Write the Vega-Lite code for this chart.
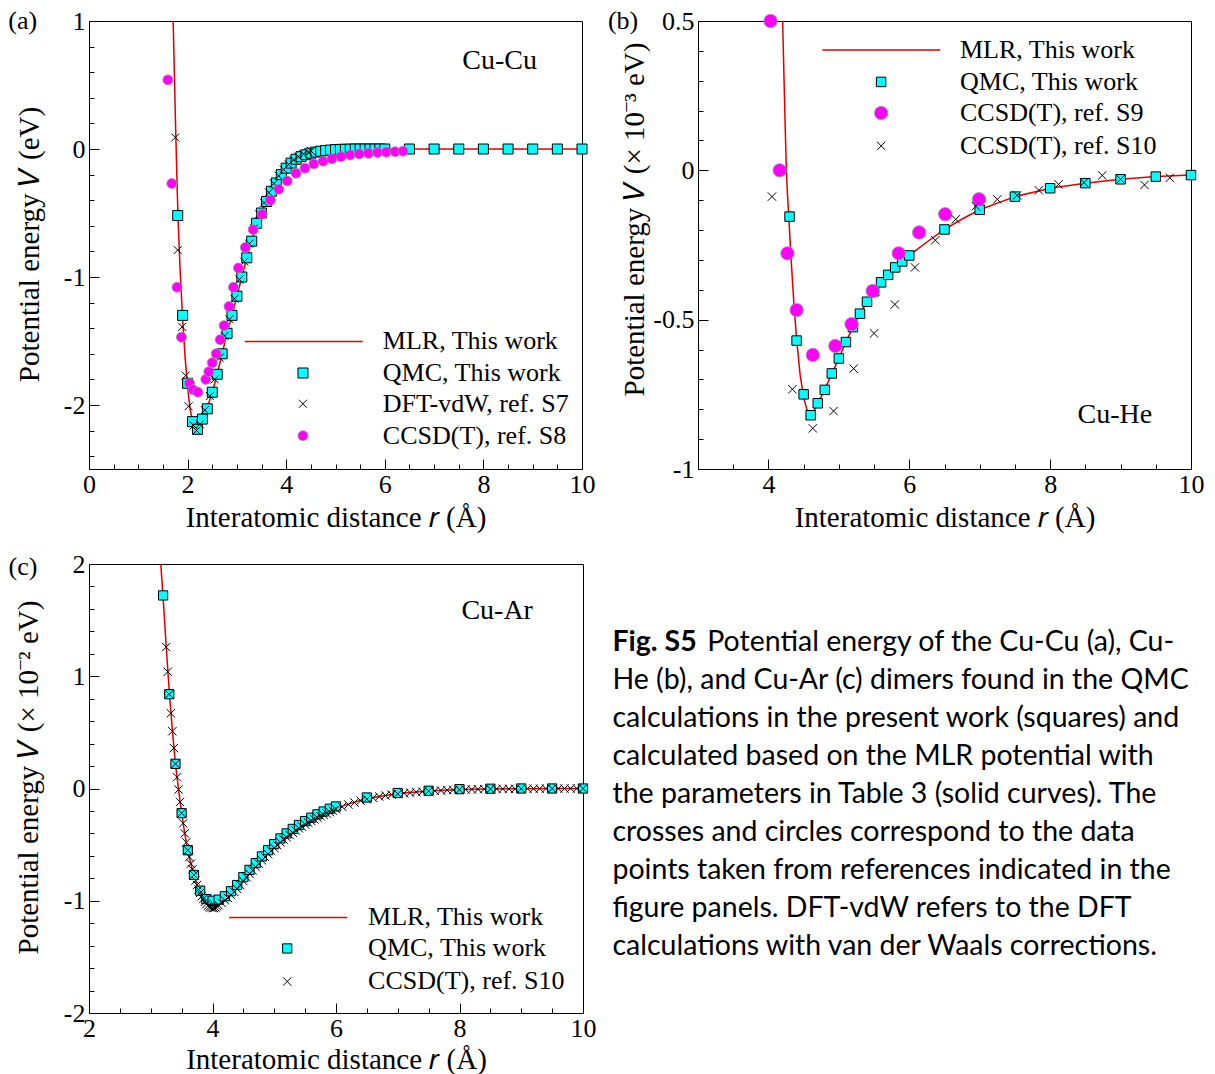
{
  "$schema": "https://vega.github.io/schema/vega-lite/v6.json",
  "padding": {"left": 7, "top": 7, "right": 0, "bottom": 0},
  "background": "white",
  "config": {
    "font": "Liberation Serif",
    "view": {"stroke": "#000", "strokeWidth": 1},
    "axis": {
      "grid": false, "domain": false,
      "labelFont": "Liberation Serif", "labelFontSize": 26, "labelColor": "#000",
      "titleFont": "Liberation Serif", "titleFontSize": 29, "titleFontWeight": "normal", "titleColor": "#000",
      "tickColor": "#000", "tickWidth": 1, "labelOverlap": false, "labelFlush": false
    },
    "text": {"font": "Liberation Serif", "color": "#000"}
  },
  "datasets": {
    "one": [{}],
    "cucu_mlr": [
      {"r": 1.695, "V": 1.15}, {"r": 1.71, "V": 0.95}, {"r": 1.73, "V": 0.62}, {"r": 1.75, "V": 0.28},
      {"r": 1.77, "V": -0.03}, {"r": 1.79, "V": -0.33}, {"r": 1.81, "V": -0.58}, {"r": 1.85, "V": -0.96},
      {"r": 1.9, "V": -1.33}, {"r": 1.95, "V": -1.63}, {"r": 2.0, "V": -1.86}, {"r": 2.05, "V": -2.03},
      {"r": 2.1, "V": -2.13}, {"r": 2.15, "V": -2.18}, {"r": 2.2, "V": -2.19}, {"r": 2.25, "V": -2.16},
      {"r": 2.3, "V": -2.11}, {"r": 2.4, "V": -2.02}, {"r": 2.5, "V": -1.9}, {"r": 2.6, "V": -1.76},
      {"r": 2.7, "V": -1.6}, {"r": 2.8, "V": -1.44}, {"r": 2.9, "V": -1.3}, {"r": 3.0, "V": -1.15},
      {"r": 3.1, "V": -1.0}, {"r": 3.2, "V": -0.85}, {"r": 3.3, "V": -0.72}, {"r": 3.4, "V": -0.59},
      {"r": 3.5, "V": -0.49}, {"r": 3.6, "V": -0.41}, {"r": 3.7, "V": -0.33}, {"r": 3.8, "V": -0.265},
      {"r": 3.9, "V": -0.205}, {"r": 4.0, "V": -0.155}, {"r": 4.1, "V": -0.115}, {"r": 4.2, "V": -0.085},
      {"r": 4.3, "V": -0.062}, {"r": 4.4, "V": -0.045}, {"r": 4.5, "V": -0.033}, {"r": 4.6, "V": -0.024},
      {"r": 4.8, "V": -0.012}, {"r": 5.0, "V": -0.006}, {"r": 5.3, "V": -0.002}, {"r": 5.6, "V": 0},
      {"r": 6.0, "V": 0}, {"r": 10.0, "V": 0}
    ],
    "cucu_qmc": [
      {"r": 1.8, "V": -0.52}, {"r": 1.9, "V": -1.3}, {"r": 2.0, "V": -1.83}, {"r": 2.1, "V": -2.13},
      {"r": 2.2, "V": -2.19}, {"r": 2.3, "V": -2.11}, {"r": 2.4, "V": -2.03}, {"r": 2.5, "V": -1.9},
      {"r": 2.6, "V": -1.76}, {"r": 2.7, "V": -1.6}, {"r": 2.8, "V": -1.44}, {"r": 2.9, "V": -1.3},
      {"r": 3.0, "V": -1.15}, {"r": 3.1, "V": -1.0}, {"r": 3.2, "V": -0.85}, {"r": 3.3, "V": -0.72},
      {"r": 3.4, "V": -0.58}, {"r": 3.5, "V": -0.5}, {"r": 3.6, "V": -0.41}, {"r": 3.7, "V": -0.33},
      {"r": 3.8, "V": -0.265}, {"r": 3.9, "V": -0.2}, {"r": 4.0, "V": -0.15}, {"r": 4.1, "V": -0.11},
      {"r": 4.2, "V": -0.08}, {"r": 4.3, "V": -0.06}, {"r": 4.4, "V": -0.045}, {"r": 4.5, "V": -0.033},
      {"r": 4.6, "V": -0.024}, {"r": 4.7, "V": -0.017}, {"r": 4.8, "V": -0.012}, {"r": 4.9, "V": -0.008},
      {"r": 5.0, "V": -0.005}, {"r": 5.1, "V": -0.003}, {"r": 5.2, "V": -0.002}, {"r": 5.3, "V": -0.001},
      {"r": 5.4, "V": 0}, {"r": 5.5, "V": 0}, {"r": 5.6, "V": 0}, {"r": 5.7, "V": 0}, {"r": 5.8, "V": 0},
      {"r": 5.9, "V": 0}, {"r": 6.0, "V": 0}, {"r": 6.5, "V": 0}, {"r": 7.0, "V": 0}, {"r": 7.5, "V": 0},
      {"r": 8.0, "V": 0}, {"r": 8.5, "V": 0}, {"r": 9.0, "V": 0}, {"r": 9.5, "V": 0}, {"r": 10.0, "V": 0}
    ],
    "cucu_dft": [
      {"r": 1.75, "V": 0.09}, {"r": 1.8, "V": -0.79}, {"r": 1.89, "V": -1.39}, {"r": 1.96, "V": -1.77},
      {"r": 2.02, "V": -2.01}, {"r": 2.12, "V": -2.16}, {"r": 2.18, "V": -2.2}, {"r": 2.25, "V": -2.15},
      {"r": 2.35, "V": -2.04}, {"r": 2.45, "V": -1.93}, {"r": 2.55, "V": -1.8}, {"r": 2.65, "V": -1.63},
      {"r": 2.75, "V": -1.46}, {"r": 2.85, "V": -1.33}, {"r": 2.95, "V": -1.17}, {"r": 3.05, "V": -1.02},
      {"r": 3.15, "V": -0.88}, {"r": 3.25, "V": -0.74}, {"r": 3.35, "V": -0.62}, {"r": 3.45, "V": -0.51},
      {"r": 3.55, "V": -0.42}, {"r": 3.65, "V": -0.34}, {"r": 3.75, "V": -0.27}, {"r": 3.85, "V": -0.21},
      {"r": 3.95, "V": -0.16}, {"r": 4.05, "V": -0.12}, {"r": 4.15, "V": -0.085}, {"r": 4.25, "V": -0.06},
      {"r": 4.35, "V": -0.04}, {"r": 4.45, "V": -0.025}, {"r": 4.5, "V": -0.015}
    ],
    "cucu_s8": [
      {"r": 1.6, "V": 0.54}, {"r": 1.68, "V": -0.27}, {"r": 1.785, "V": -1.08}, {"r": 1.875, "V": -1.47},
      {"r": 2.04, "V": -1.83}, {"r": 2.11, "V": -1.88}, {"r": 2.21, "V": -1.9}, {"r": 2.37, "V": -1.8},
      {"r": 2.43, "V": -1.74}, {"r": 2.5, "V": -1.67}, {"r": 2.58, "V": -1.6}, {"r": 2.66, "V": -1.49},
      {"r": 2.74, "V": -1.38}, {"r": 2.84, "V": -1.23}, {"r": 2.93, "V": -1.08}, {"r": 3.03, "V": -0.93},
      {"r": 3.17, "V": -0.77}, {"r": 3.33, "V": -0.63}, {"r": 3.51, "V": -0.51}, {"r": 3.68, "V": -0.4},
      {"r": 3.85, "V": -0.315}, {"r": 4.02, "V": -0.25}, {"r": 4.2, "V": -0.19}, {"r": 4.38, "V": -0.15},
      {"r": 4.56, "V": -0.117}, {"r": 4.75, "V": -0.096}, {"r": 4.93, "V": -0.076}, {"r": 5.11, "V": -0.06},
      {"r": 5.3, "V": -0.047}, {"r": 5.48, "V": -0.039}, {"r": 5.67, "V": -0.034}, {"r": 5.85, "V": -0.028},
      {"r": 6.03, "V": -0.025}, {"r": 6.21, "V": -0.021}, {"r": 6.37, "V": -0.017}
    ],
    "cuhe_mlr": [
      {"r": 4.195, "V": 0.56}, {"r": 4.21, "V": 0.42}, {"r": 4.225, "V": 0.27}, {"r": 4.24, "V": 0.13},
      {"r": 4.255, "V": 0.0}, {"r": 4.27, "V": -0.08}, {"r": 4.29, "V": -0.16}, {"r": 4.32, "V": -0.29},
      {"r": 4.36, "V": -0.44}, {"r": 4.4, "V": -0.565}, {"r": 4.45, "V": -0.685}, {"r": 4.5, "V": -0.76},
      {"r": 4.55, "V": -0.805}, {"r": 4.6, "V": -0.82}, {"r": 4.65, "V": -0.805}, {"r": 4.7, "V": -0.78},
      {"r": 4.8, "V": -0.735}, {"r": 4.9, "V": -0.68}, {"r": 5.0, "V": -0.63}, {"r": 5.1, "V": -0.575},
      {"r": 5.2, "V": -0.525}, {"r": 5.3, "V": -0.48}, {"r": 5.4, "V": -0.44}, {"r": 5.5, "V": -0.405},
      {"r": 5.6, "V": -0.375}, {"r": 5.7, "V": -0.35}, {"r": 5.8, "V": -0.325}, {"r": 5.9, "V": -0.305},
      {"r": 6.0, "V": -0.285}, {"r": 6.25, "V": -0.24}, {"r": 6.5, "V": -0.198}, {"r": 6.75, "V": -0.163},
      {"r": 7.0, "V": -0.132}, {"r": 7.5, "V": -0.088}, {"r": 8.0, "V": -0.06}, {"r": 8.5, "V": -0.043},
      {"r": 9.0, "V": -0.03}, {"r": 9.5, "V": -0.021}, {"r": 10.0, "V": -0.016}
    ],
    "cuhe_qmc": [
      {"r": 4.3, "V": -0.155}, {"r": 4.4, "V": -0.57}, {"r": 4.5, "V": -0.75}, {"r": 4.6, "V": -0.82},
      {"r": 4.7, "V": -0.78}, {"r": 4.8, "V": -0.735}, {"r": 4.9, "V": -0.68}, {"r": 5.0, "V": -0.63},
      {"r": 5.1, "V": -0.575}, {"r": 5.2, "V": -0.525}, {"r": 5.3, "V": -0.48}, {"r": 5.4, "V": -0.44},
      {"r": 5.5, "V": -0.405}, {"r": 5.6, "V": -0.375}, {"r": 5.7, "V": -0.35}, {"r": 5.8, "V": -0.325},
      {"r": 5.9, "V": -0.305}, {"r": 6.0, "V": -0.285}, {"r": 6.5, "V": -0.198}, {"r": 7.0, "V": -0.132},
      {"r": 7.5, "V": -0.088}, {"r": 8.0, "V": -0.06}, {"r": 8.5, "V": -0.043}, {"r": 9.0, "V": -0.03},
      {"r": 9.5, "V": -0.021}, {"r": 10.0, "V": -0.016}
    ],
    "cuhe_s9": [
      {"r": 4.03, "V": 0.5}, {"r": 4.16, "V": 0.0}, {"r": 4.27, "V": -0.278}, {"r": 4.4, "V": -0.468},
      {"r": 4.63, "V": -0.618}, {"r": 4.95, "V": -0.588}, {"r": 5.18, "V": -0.515}, {"r": 5.48, "V": -0.404},
      {"r": 5.85, "V": -0.278}, {"r": 6.14, "V": -0.208}, {"r": 6.51, "V": -0.147}, {"r": 6.99, "V": -0.097}
    ],
    "cuhe_s10": [
      {"r": 4.05, "V": -0.088}, {"r": 4.34, "V": -0.733}, {"r": 4.63, "V": -0.864}, {"r": 4.925, "V": -0.806},
      {"r": 5.21, "V": -0.664}, {"r": 5.5, "V": -0.546}, {"r": 5.795, "V": -0.449}, {"r": 6.08, "V": -0.325},
      {"r": 6.37, "V": -0.234}, {"r": 6.66, "V": -0.164}, {"r": 6.945, "V": -0.12}, {"r": 7.25, "V": -0.097},
      {"r": 7.53, "V": -0.084}, {"r": 7.84, "V": -0.067}, {"r": 8.12, "V": -0.047}, {"r": 8.48, "V": -0.041},
      {"r": 8.74, "V": -0.017}, {"r": 9.0, "V": -0.03}, {"r": 9.34, "V": -0.049}, {"r": 9.7, "V": -0.025}
    ],
    "cuar_mlr": [
      {"r": 3.15, "V": 2.1}, {"r": 3.2, "V": 1.7}, {"r": 3.25, "V": 1.27}, {"r": 3.3, "V": 0.86},
      {"r": 3.35, "V": 0.52}, {"r": 3.4, "V": 0.22}, {"r": 3.45, "V": -0.01}, {"r": 3.5, "V": -0.22},
      {"r": 3.55, "V": -0.4}, {"r": 3.6, "V": -0.55}, {"r": 3.65, "V": -0.67}, {"r": 3.7, "V": -0.775},
      {"r": 3.75, "V": -0.86}, {"r": 3.8, "V": -0.925}, {"r": 3.85, "V": -0.97}, {"r": 3.9, "V": -1.005},
      {"r": 3.95, "V": -1.025}, {"r": 4.0, "V": -1.035}, {"r": 4.05, "V": -1.035}, {"r": 4.1, "V": -1.025},
      {"r": 4.2, "V": -0.98}, {"r": 4.3, "V": -0.93}, {"r": 4.4, "V": -0.875}, {"r": 4.5, "V": -0.81},
      {"r": 4.6, "V": -0.745}, {"r": 4.7, "V": -0.685}, {"r": 4.8, "V": -0.625}, {"r": 4.9, "V": -0.57},
      {"r": 5.0, "V": -0.515}, {"r": 5.2, "V": -0.42}, {"r": 5.4, "V": -0.34}, {"r": 5.6, "V": -0.275},
      {"r": 5.8, "V": -0.22}, {"r": 6.0, "V": -0.175}, {"r": 6.25, "V": -0.13}, {"r": 6.5, "V": -0.09},
      {"r": 7.0, "V": -0.045}, {"r": 7.5, "V": -0.022}, {"r": 8.0, "V": -0.009}, {"r": 8.5, "V": -0.004},
      {"r": 9.0, "V": -0.002}, {"r": 9.5, "V": -0.001}, {"r": 10.0, "V": 0}
    ],
    "cuar_qmc": [
      {"r": 3.2, "V": 1.72}, {"r": 3.3, "V": 0.84}, {"r": 3.4, "V": 0.22}, {"r": 3.5, "V": -0.22},
      {"r": 3.6, "V": -0.55}, {"r": 3.7, "V": -0.77}, {"r": 3.8, "V": -0.91}, {"r": 3.9, "V": -0.985},
      {"r": 4.0, "V": -1.0}, {"r": 4.1, "V": -0.99}, {"r": 4.2, "V": -0.96}, {"r": 4.3, "V": -0.915},
      {"r": 4.4, "V": -0.86}, {"r": 4.5, "V": -0.79}, {"r": 4.6, "V": -0.725}, {"r": 4.7, "V": -0.665},
      {"r": 4.8, "V": -0.605}, {"r": 4.9, "V": -0.55}, {"r": 5.0, "V": -0.495}, {"r": 5.1, "V": -0.445},
      {"r": 5.2, "V": -0.4}, {"r": 5.3, "V": -0.36}, {"r": 5.4, "V": -0.325}, {"r": 5.5, "V": -0.29},
      {"r": 5.6, "V": -0.26}, {"r": 5.7, "V": -0.23}, {"r": 5.8, "V": -0.205}, {"r": 5.9, "V": -0.18},
      {"r": 6.0, "V": -0.16}, {"r": 6.5, "V": -0.08}, {"r": 7.0, "V": -0.04}, {"r": 7.5, "V": -0.02},
      {"r": 8.0, "V": -0.006}, {"r": 8.5, "V": -0.002}, {"r": 9.0, "V": 0}, {"r": 9.5, "V": 0}, {"r": 10.0, "V": 0}
    ],
    "cuar_s10": [
      {"r": 3.25, "V": 1.26}, {"r": 3.275, "V": 1.04}, {"r": 3.3, "V": 0.84}, {"r": 3.325, "V": 0.67},
      {"r": 3.35, "V": 0.51}, {"r": 3.375, "V": 0.36}, {"r": 3.4, "V": 0.22}, {"r": 3.425, "V": 0.1},
      {"r": 3.45, "V": -0.01}, {"r": 3.475, "V": -0.12}, {"r": 3.5, "V": -0.22}, {"r": 3.525, "V": -0.31},
      {"r": 3.55, "V": -0.4}, {"r": 3.575, "V": -0.48}, {"r": 3.6, "V": -0.55}, {"r": 3.625, "V": -0.61},
      {"r": 3.65, "V": -0.67}, {"r": 3.675, "V": -0.72}, {"r": 3.7, "V": -0.77}, {"r": 3.725, "V": -0.82},
      {"r": 3.75, "V": -0.86}, {"r": 3.775, "V": -0.9}, {"r": 3.8, "V": -0.93}, {"r": 3.825, "V": -0.96},
      {"r": 3.85, "V": -0.985}, {"r": 3.875, "V": -1.01}, {"r": 3.9, "V": -1.03}, {"r": 3.925, "V": -1.045},
      {"r": 3.95, "V": -1.055}, {"r": 3.975, "V": -1.06}, {"r": 4.0, "V": -1.065}, {"r": 4.025, "V": -1.065},
      {"r": 4.05, "V": -1.06}, {"r": 4.075, "V": -1.05}, {"r": 4.1, "V": -1.04}, {"r": 4.15, "V": -1.02},
      {"r": 4.2, "V": -0.995}, {"r": 4.25, "V": -0.975}, {"r": 4.3, "V": -0.95}, {"r": 4.35, "V": -0.92},
      {"r": 4.4, "V": -0.895}, {"r": 4.45, "V": -0.86}, {"r": 4.5, "V": -0.825}, {"r": 4.55, "V": -0.79},
      {"r": 4.6, "V": -0.76}, {"r": 4.65, "V": -0.73}, {"r": 4.7, "V": -0.7}, {"r": 4.75, "V": -0.67},
      {"r": 4.8, "V": -0.64}, {"r": 4.85, "V": -0.61}, {"r": 4.9, "V": -0.585}, {"r": 4.95, "V": -0.555},
      {"r": 5.0, "V": -0.53}, {"r": 5.05, "V": -0.505}, {"r": 5.1, "V": -0.48}, {"r": 5.15, "V": -0.455},
      {"r": 5.2, "V": -0.435}, {"r": 5.25, "V": -0.415}, {"r": 5.3, "V": -0.395}, {"r": 5.35, "V": -0.375},
      {"r": 5.4, "V": -0.355}, {"r": 5.45, "V": -0.34}, {"r": 5.5, "V": -0.32}, {"r": 5.55, "V": -0.305},
      {"r": 5.6, "V": -0.29}, {"r": 5.65, "V": -0.275}, {"r": 5.7, "V": -0.26}, {"r": 5.75, "V": -0.247},
      {"r": 5.8, "V": -0.235}, {"r": 5.85, "V": -0.222}, {"r": 5.9, "V": -0.21}, {"r": 5.95, "V": -0.198},
      {"r": 6.0, "V": -0.185}, {"r": 6.1, "V": -0.163}, {"r": 6.2, "V": -0.143}, {"r": 6.3, "V": -0.125},
      {"r": 6.4, "V": -0.109}, {"r": 6.5, "V": -0.095}, {"r": 6.6, "V": -0.083}, {"r": 6.7, "V": -0.072},
      {"r": 6.8, "V": -0.063}, {"r": 6.9, "V": -0.055}, {"r": 7.0, "V": -0.048}, {"r": 7.1, "V": -0.042},
      {"r": 7.2, "V": -0.037}, {"r": 7.3, "V": -0.032}, {"r": 7.4, "V": -0.028}, {"r": 7.5, "V": -0.024},
      {"r": 7.6, "V": -0.021}, {"r": 7.7, "V": -0.018}, {"r": 7.8, "V": -0.015}, {"r": 7.9, "V": -0.013},
      {"r": 8.0, "V": -0.011}, {"r": 8.1, "V": -0.009}, {"r": 8.2, "V": -0.008}, {"r": 8.3, "V": -0.007},
      {"r": 8.4, "V": -0.006}, {"r": 8.5, "V": -0.005}, {"r": 8.6, "V": -0.004}, {"r": 8.7, "V": -0.004},
      {"r": 8.8, "V": -0.003}, {"r": 8.9, "V": -0.003}, {"r": 9.0, "V": -0.002}, {"r": 9.1, "V": -0.002},
      {"r": 9.2, "V": -0.002}, {"r": 9.3, "V": -0.001}, {"r": 9.4, "V": -0.001}, {"r": 9.5, "V": -0.001},
      {"r": 9.6, "V": -0.001}, {"r": 9.7, "V": -0.001}, {"r": 9.8, "V": 0}, {"r": 9.9, "V": 0}, {"r": 10.0, "V": 0}
    ],
    "caption": [
      {"line": 2, "txt": "He (b), and Cu-Ar (c) dimers found in the QMC"},
      {"line": 3, "txt": "calculations in the present work (squares) and"},
      {"line": 4, "txt": "calculated based on the MLR potential with"},
      {"line": 5, "txt": "the parameters in Table 3 (solid curves). The"},
      {"line": 6, "txt": "crosses and circles correspond to the data"},
      {"line": 7, "txt": "points taken from references indicated in the"},
      {"line": 8, "txt": "figure panels. DFT-vdW refers to the DFT"},
      {"line": 9, "txt": "calculations with van der Waals corrections."}
    ]
  },
  "columns": 2,
  "bounds": "flush",
  "spacing": {"row": 95, "column": 115},
  "concat": [
    {
      "width": 493, "height": 448,
      "layer": [
        {
          "data": {"name": "cucu_mlr"},
          "mark": {"type": "line", "color": "#dd0000", "strokeWidth": 1.5, "clip": true},
          "encoding": {
            "x": {"field": "r", "type": "quantitative", "scale": {"domain": [0, 10], "nice": false, "zero": false},
              "axis": {"title": "Interatomic distance 𝑟 (Å)", "titlePadding": 1, "labelPadding": 12, "labelOverlap": false, "tickCount": 500,
                "values": [0, 0.5, 1, 1.5, 2, 2.5, 3, 3.5, 4, 4.5, 5, 5.5, 6, 6.5, 7, 7.5, 8, 8.5, 9, 9.5, 10],
                "labelExpr": "datum.value % 2 === 0 ? '' + datum.value : ''",
                "tickSize": {"condition": {"test": "datum.value % 2 === 0", "value": -10}, "value": -5}}},
            "y": {"field": "V", "type": "quantitative", "scale": {"domain": [-2.5, 1], "nice": false, "zero": false},
              "axis": {"title": "Potential energy 𝑉 (eV)", "titleX": -60, "titleY": 223, "titleAngle": -90, "titleAlign": "center", "titleBaseline": "middle",
                "labelPadding": 14, "labelOverlap": false, "tickCount": 500,
                "values": [-2.4, -2.2, -2, -1.8, -1.6, -1.4, -1.2, -1, -0.8, -0.6, -0.4, -0.2, 0, 0.2, 0.4, 0.6, 0.8, 1],
                "labelExpr": "abs(datum.value - round(datum.value)) < 0.001 ? '' + round(datum.value) : ''",
                "tickSize": {"condition": {"test": "abs(datum.value - round(datum.value)) < 0.001", "value": -10}, "value": -5}}}
          }
        },
        {
          "data": {"name": "cucu_qmc"},
          "mark": {"type": "point", "shape": "square", "filled": true, "fill": "#00ffff", "stroke": "#000", "strokeWidth": 1, "size": 100, "opacity": 1},
          "encoding": {"x": {"field": "r", "type": "quantitative"}, "y": {"field": "V", "type": "quantitative"}}
        },
        {
          "data": {"name": "cucu_dft"},
          "mark": {"type": "point", "shape": "M-1,-1L1,1M-1,1L1,-1", "filled": false, "stroke": "#000", "strokeWidth": 1, "size": 64, "opacity": 1},
          "encoding": {"x": {"field": "r", "type": "quantitative"}, "y": {"field": "V", "type": "quantitative"}}
        },
        {
          "data": {"name": "cucu_s8"},
          "mark": {"type": "point", "shape": "circle", "filled": true, "fill": "#ff00ff", "stroke": "#999", "strokeWidth": 0.8, "size": 100, "opacity": 1},
          "encoding": {"x": {"field": "r", "type": "quantitative"}, "y": {"field": "V", "type": "quantitative"}}
        },
        {
          "data": {"name": "one"},
          "mark": {"type": "rule", "color": "#dd0000", "strokeWidth": 1.5},
          "encoding": {"x": {"datum": 3.16, "type": "quantitative"}, "x2": {"datum": 5.55}, "y": {"datum": -1.503, "type": "quantitative"}}
        },
        {
          "data": {"name": "one"},
          "mark": {"type": "point", "shape": "square", "filled": true, "fill": "#00ffff", "stroke": "#000", "strokeWidth": 1, "size": 100, "opacity": 1},
          "encoding": {"x": {"datum": 4.34, "type": "quantitative"}, "y": {"datum": -1.75, "type": "quantitative"}}
        },
        {
          "data": {"name": "one"},
          "mark": {"type": "point", "shape": "M-1,-1L1,1M-1,1L1,-1", "filled": false, "stroke": "#000", "strokeWidth": 1, "size": 64, "opacity": 1},
          "encoding": {"x": {"datum": 4.34, "type": "quantitative"}, "y": {"datum": -1.99, "type": "quantitative"}}
        },
        {
          "data": {"name": "one"},
          "mark": {"type": "point", "shape": "circle", "filled": true, "fill": "#ff00ff", "stroke": "#999", "strokeWidth": 0.8, "size": 100, "opacity": 1},
          "encoding": {"x": {"datum": 4.34, "type": "quantitative"}, "y": {"datum": -2.24, "type": "quantitative"}}
        },
        {"data": {"name": "one"}, "mark": {"type": "text", "text": "MLR, This work", "align": "left", "baseline": "middle", "fontSize": 26},
         "encoding": {"x": {"datum": 5.96, "type": "quantitative"}, "y": {"datum": -1.503, "type": "quantitative"}}},
        {"data": {"name": "one"}, "mark": {"type": "text", "text": "QMC, This work", "align": "left", "baseline": "middle", "fontSize": 26},
         "encoding": {"x": {"datum": 5.96, "type": "quantitative"}, "y": {"datum": -1.75, "type": "quantitative"}}},
        {"data": {"name": "one"}, "mark": {"type": "text", "text": "DFT-vdW, ref. S7", "align": "left", "baseline": "middle", "fontSize": 26},
         "encoding": {"x": {"datum": 5.96, "type": "quantitative"}, "y": {"datum": -1.99, "type": "quantitative"}}},
        {"data": {"name": "one"}, "mark": {"type": "text", "text": "CCSD(T), ref. S8", "align": "left", "baseline": "middle", "fontSize": 26},
         "encoding": {"x": {"datum": 5.96, "type": "quantitative"}, "y": {"datum": -2.24, "type": "quantitative"}}},
        {"data": {"name": "one"}, "mark": {"type": "text", "text": "Cu-Cu", "align": "center", "baseline": "middle", "fontSize": 28},
         "encoding": {"x": {"datum": 8.33, "type": "quantitative"}, "y": {"datum": 0.69, "type": "quantitative"}}},
        {"data": {"name": "one"}, "mark": {"type": "text", "text": "(a)", "align": "center", "baseline": "middle", "fontSize": 26},
         "encoding": {"x": {"datum": -1.345, "type": "quantitative"}, "y": {"datum": 1.0, "type": "quantitative"}}}
      ]
    },
    {
      "width": 493, "height": 448,
      "layer": [
        {
          "data": {"name": "cuhe_mlr"},
          "mark": {"type": "line", "color": "#dd0000", "strokeWidth": 1.5, "clip": true},
          "encoding": {
            "x": {"field": "r", "type": "quantitative", "scale": {"domain": [3, 10], "nice": false, "zero": false},
              "axis": {"title": "Interatomic distance 𝑟 (Å)", "titlePadding": 1, "labelPadding": 12, "labelOverlap": false, "tickCount": 500,
                "values": [3, 3.5, 4, 4.5, 5, 5.5, 6, 6.5, 7, 7.5, 8, 8.5, 9, 9.5, 10],
                "labelExpr": "datum.value % 2 === 0 ? '' + datum.value : ''",
                "tickSize": {"condition": {"test": "datum.value % 2 === 0", "value": -10}, "value": -5}}},
            "y": {"field": "V", "type": "quantitative", "scale": {"domain": [-1, 0.5], "nice": false, "zero": false},
              "axis": {"title": "Potential energy 𝑉 (× 10⁻³ eV)", "titleX": -64, "titleY": 198, "titleAngle": -90, "titleAlign": "center", "titleBaseline": "middle",
                "labelPadding": 14, "labelOverlap": false, "tickCount": 500,
                "values": [-1, -0.9, -0.8, -0.7, -0.6, -0.5, -0.4, -0.3, -0.2, -0.1, 0, 0.1, 0.2, 0.3, 0.4, 0.5],
                "labelExpr": "abs(datum.value * 2 - round(datum.value * 2)) < 0.001 ? '' + datum.value : ''",
                "tickSize": {"condition": {"test": "abs(datum.value * 2 - round(datum.value * 2)) < 0.001", "value": -10}, "value": -5}}}
          }
        },
        {
          "data": {"name": "cuhe_qmc"},
          "mark": {"type": "point", "shape": "square", "filled": true, "fill": "#00ffff", "stroke": "#000", "strokeWidth": 1, "size": 90, "opacity": 1},
          "encoding": {"x": {"field": "r", "type": "quantitative"}, "y": {"field": "V", "type": "quantitative"}}
        },
        {
          "data": {"name": "cuhe_s9"},
          "mark": {"type": "point", "shape": "circle", "filled": true, "fill": "#ff00ff", "stroke": "#999", "strokeWidth": 0.8, "size": 180, "opacity": 1},
          "encoding": {"x": {"field": "r", "type": "quantitative"}, "y": {"field": "V", "type": "quantitative"}}
        },
        {
          "data": {"name": "cuhe_s10"},
          "mark": {"type": "point", "shape": "M-1,-1L1,1M-1,1L1,-1", "filled": false, "stroke": "#000", "strokeWidth": 1, "size": 70, "opacity": 1},
          "encoding": {"x": {"field": "r", "type": "quantitative"}, "y": {"field": "V", "type": "quantitative"}}
        },
        {
          "data": {"name": "one"},
          "mark": {"type": "rule", "color": "#dd0000", "strokeWidth": 1.5},
          "encoding": {"x": {"datum": 4.765, "type": "quantitative"}, "x2": {"datum": 6.44}, "y": {"datum": 0.403, "type": "quantitative"}}
        },
        {
          "data": {"name": "one"},
          "mark": {"type": "point", "shape": "square", "filled": true, "fill": "#00ffff", "stroke": "#000", "strokeWidth": 1, "size": 90, "opacity": 1},
          "encoding": {"x": {"datum": 5.6, "type": "quantitative"}, "y": {"datum": 0.296, "type": "quantitative"}}
        },
        {
          "data": {"name": "one"},
          "mark": {"type": "point", "shape": "circle", "filled": true, "fill": "#ff00ff", "stroke": "#999", "strokeWidth": 0.8, "size": 180, "opacity": 1},
          "encoding": {"x": {"datum": 5.6, "type": "quantitative"}, "y": {"datum": 0.192, "type": "quantitative"}}
        },
        {
          "data": {"name": "one"},
          "mark": {"type": "point", "shape": "M-1,-1L1,1M-1,1L1,-1", "filled": false, "stroke": "#000", "strokeWidth": 1, "size": 70, "opacity": 1},
          "encoding": {"x": {"datum": 5.6, "type": "quantitative"}, "y": {"datum": 0.082, "type": "quantitative"}}
        },
        {"data": {"name": "one"}, "mark": {"type": "text", "text": "MLR, This work", "align": "left", "baseline": "middle", "fontSize": 26},
         "encoding": {"x": {"datum": 6.72, "type": "quantitative"}, "y": {"datum": 0.403, "type": "quantitative"}}},
        {"data": {"name": "one"}, "mark": {"type": "text", "text": "QMC, This work", "align": "left", "baseline": "middle", "fontSize": 26},
         "encoding": {"x": {"datum": 6.72, "type": "quantitative"}, "y": {"datum": 0.296, "type": "quantitative"}}},
        {"data": {"name": "one"}, "mark": {"type": "text", "text": "CCSD(T), ref. S9", "align": "left", "baseline": "middle", "fontSize": 26},
         "encoding": {"x": {"datum": 6.72, "type": "quantitative"}, "y": {"datum": 0.192, "type": "quantitative"}}},
        {"data": {"name": "one"}, "mark": {"type": "text", "text": "CCSD(T), ref. S10", "align": "left", "baseline": "middle", "fontSize": 26},
         "encoding": {"x": {"datum": 6.72, "type": "quantitative"}, "y": {"datum": 0.082, "type": "quantitative"}}},
        {"data": {"name": "one"}, "mark": {"type": "text", "text": "Cu-He", "align": "center", "baseline": "middle", "fontSize": 28},
         "encoding": {"x": {"datum": 8.92, "type": "quantitative"}, "y": {"datum": -0.819, "type": "quantitative"}}},
        {"data": {"name": "one"}, "mark": {"type": "text", "text": "(b)", "align": "center", "baseline": "middle", "fontSize": 26},
         "encoding": {"x": {"datum": 1.936, "type": "quantitative"}, "y": {"datum": 0.5, "type": "quantitative"}}}
      ]
    },
    {
      "width": 494, "height": 449,
      "layer": [
        {
          "data": {"name": "cuar_mlr"},
          "mark": {"type": "line", "color": "#dd0000", "strokeWidth": 1.5, "clip": true},
          "encoding": {
            "x": {"field": "r", "type": "quantitative", "scale": {"domain": [2, 10], "nice": false, "zero": false},
              "axis": {"title": "Interatomic distance 𝑟 (Å)", "titlePadding": -1, "labelPadding": 12, "labelOverlap": false, "tickCount": 500,
                "values": [2, 2.5, 3, 3.5, 4, 4.5, 5, 5.5, 6, 6.5, 7, 7.5, 8, 8.5, 9, 9.5, 10],
                "labelExpr": "datum.value % 2 === 0 ? '' + datum.value : ''",
                "tickSize": {"condition": {"test": "datum.value % 2 === 0", "value": -10}, "value": -5}}},
            "y": {"field": "V", "type": "quantitative", "scale": {"domain": [-2, 2], "nice": false, "zero": false},
              "axis": {"title": "Potential energy 𝑉 (× 10⁻² eV)", "titleX": -61, "titleY": 213, "titleAngle": -90, "titleAlign": "center", "titleBaseline": "middle",
                "labelPadding": 14, "labelOverlap": false, "tickCount": 500,
                "values": [-2, -1.8, -1.6, -1.4, -1.2, -1, -0.8, -0.6, -0.4, -0.2, 0, 0.2, 0.4, 0.6, 0.8, 1, 1.2, 1.4, 1.6, 1.8, 2],
                "labelExpr": "abs(datum.value - round(datum.value)) < 0.001 ? '' + round(datum.value) : ''",
                "tickSize": {"condition": {"test": "abs(datum.value - round(datum.value)) < 0.001", "value": -10}, "value": -5}}}
          }
        },
        {
          "data": {"name": "cuar_qmc"},
          "mark": {"type": "point", "shape": "square", "filled": true, "fill": "#00ffff", "stroke": "#000", "strokeWidth": 1, "size": 85, "opacity": 1},
          "encoding": {"x": {"field": "r", "type": "quantitative"}, "y": {"field": "V", "type": "quantitative"}}
        },
        {
          "data": {"name": "cuar_s10"},
          "mark": {"type": "point", "shape": "M-1,-1L1,1M-1,1L1,-1", "filled": false, "stroke": "#000", "strokeWidth": 1, "size": 70, "opacity": 1},
          "encoding": {"x": {"field": "r", "type": "quantitative"}, "y": {"field": "V", "type": "quantitative"}}
        },
        {
          "data": {"name": "one"},
          "mark": {"type": "rule", "color": "#dd0000", "strokeWidth": 1.5},
          "encoding": {"x": {"datum": 4.27, "type": "quantitative"}, "x2": {"datum": 6.18}, "y": {"datum": -1.149, "type": "quantitative"}}
        },
        {
          "data": {"name": "one"},
          "mark": {"type": "point", "shape": "square", "filled": true, "fill": "#00ffff", "stroke": "#000", "strokeWidth": 1, "size": 85, "opacity": 1},
          "encoding": {"x": {"datum": 5.21, "type": "quantitative"}, "y": {"datum": -1.425, "type": "quantitative"}}
        },
        {
          "data": {"name": "one"},
          "mark": {"type": "point", "shape": "M-1,-1L1,1M-1,1L1,-1", "filled": false, "stroke": "#000", "strokeWidth": 1, "size": 70, "opacity": 1},
          "encoding": {"x": {"datum": 5.21, "type": "quantitative"}, "y": {"datum": -1.719, "type": "quantitative"}}
        },
        {"data": {"name": "one"}, "mark": {"type": "text", "text": "MLR, This work", "align": "left", "baseline": "middle", "fontSize": 26},
         "encoding": {"x": {"datum": 6.52, "type": "quantitative"}, "y": {"datum": -1.149, "type": "quantitative"}}},
        {"data": {"name": "one"}, "mark": {"type": "text", "text": "QMC, This work", "align": "left", "baseline": "middle", "fontSize": 26},
         "encoding": {"x": {"datum": 6.52, "type": "quantitative"}, "y": {"datum": -1.425, "type": "quantitative"}}},
        {"data": {"name": "one"}, "mark": {"type": "text", "text": "CCSD(T), ref. S10", "align": "left", "baseline": "middle", "fontSize": 26},
         "encoding": {"x": {"datum": 6.52, "type": "quantitative"}, "y": {"datum": -1.719, "type": "quantitative"}}},
        {"data": {"name": "one"}, "mark": {"type": "text", "text": "Cu-Ar", "align": "center", "baseline": "middle", "fontSize": 28},
         "encoding": {"x": {"datum": 8.61, "type": "quantitative"}, "y": {"datum": 1.577, "type": "quantitative"}}},
        {"data": {"name": "one"}, "mark": {"type": "text", "text": "(c)", "align": "center", "baseline": "middle", "fontSize": 26},
         "encoding": {"x": {"datum": 0.931, "type": "quantitative"}, "y": {"datum": 1.97, "type": "quantitative"}}}
      ]
    },
    {
      "width": 493, "height": 449,
      "view": {"stroke": null},
      "layer": [
        {
          "data": {"name": "one"},
          "mark": {"type": "text", "text": "Fig. S5", "align": "left", "baseline": "alphabetic", "font": "Lato", "fontWeight": "bold", "fontSize": 28.5},
          "encoding": {
            "x": {"datum": 0, "type": "quantitative", "scale": {"domain": [0.148, 1.001], "nice": false, "zero": false}, "axis": null},
            "y": {"datum": 1, "type": "quantitative", "scale": {"domain": [-1.289, 10.526], "reverse": true, "nice": false, "zero": false}, "axis": null}
          }
        },
        {
          "data": {"name": "one"},
          "mark": {"type": "text", "text": "Potential energy of the Cu-Cu (a), Cu-", "align": "left", "baseline": "alphabetic", "font": "Lato", "fontSize": 28.5},
          "encoding": {"x": {"datum": 0.164, "type": "quantitative"}, "y": {"datum": 1, "type": "quantitative"}}
        },
        {
          "data": {"name": "caption"},
          "mark": {"type": "text", "align": "left", "baseline": "alphabetic", "font": "Lato", "fontSize": 28.5},
          "encoding": {
            "x": {"datum": 0, "type": "quantitative"},
            "y": {"field": "line", "type": "quantitative"},
            "text": {"field": "txt", "type": "nominal"}
          }
        }
      ]
    }
  ]
}
